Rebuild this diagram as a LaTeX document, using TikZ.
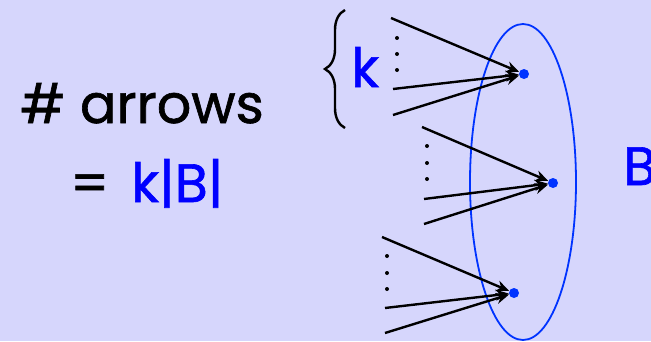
\documentclass[tikz,border=0pt]{standalone}
\usepackage{fontspec}
\setmainfont{Poppins}[FakeBold=1.2,AutoFakeBold=1.2]
\usetikzlibrary{arrows.meta,decorations.pathreplacing}
\definecolor{bg}{RGB}{214,214,252}
\definecolor{tblue}{RGB}{0,0,255}
\definecolor{eblue}{RGB}{0,51,255}
\tikzset{
  pt/.style={circle,fill=eblue,inner sep=0pt,minimum size=10pt},
  arr/.style={line width=2.4pt,-{Stealth[length=13pt,width=11pt]}},
  vdot/.style={circle,fill=black,inner sep=0pt,minimum size=4pt},
  big/.style={font=\fontsize{54}{60}\selectfont\bfseries,inner sep=0pt,anchor=base west},
}
\begin{document}
\begin{tikzpicture}[x=1pt,y=1pt]
\fill[bg] (0,0) rectangle (651,341);
\useasboundingbox (0,0) rectangle (651,341);
% ellipse
\draw[eblue,line width=1.8pt] (523,159) ellipse [x radius=53,y radius=158];
% text
\node[big] (t1) at (20,218) {\# arrows};
\node[big] (t2) at (70,139) {=};
\node[big,text=tblue] (t3) at (131,139) {k|B|};
\node[big,text=tblue] (bl) at (623,156) {B};
% points
\node[pt] (p1) at (524,267) {};
\node[pt] (p2) at (553,158) {};
\node[pt] (p3) at (514,48) {};
% group 1
\coordinate (a1) at (391,323);
\coordinate (a2) at (393,252);
\coordinate (a3) at (393,226);
\draw[arr] (a1) -- (p1);
\draw[arr] (a2) -- (p1);
\draw[arr] (a3) -- (p1);
\node[vdot] at (397,303) {};
\node[vdot] at (397,287) {};
\node[vdot] at (397,271) {};
% group 2
\coordinate (b1) at (422,214);
\coordinate (b2) at (424,142);
\coordinate (b3) at (424,117);
\draw[arr] (b1) -- (p2);
\draw[arr] (b2) -- (p2);
\draw[arr] (b3) -- (p2);
\node[vdot] at (427,195) {};
\node[vdot] at (427,178) {};
\node[vdot] at (427,162) {};
% group 3
\coordinate (c1) at (382,104);
\coordinate (c2) at (385,33);
\coordinate (c3) at (385,8);
\draw[arr] (c1) -- (p3);
\draw[arr] (c2) -- (p3);
\draw[arr] (c3) -- (p3);
\node[vdot] at (387,85) {};
\node[vdot] at (387,68) {};
\node[vdot] at (387,52) {};
% brace and k
\coordinate (br1) at (345,213);
\coordinate (br2) at (345,331);
\draw[line width=2.4pt,decorate,decoration={brace,amplitude=20pt,aspect=0.5}] (br1) -- (br2);
\node[big,text=tblue] (k) at (351,254) {k};
\end{tikzpicture}
\end{document}
